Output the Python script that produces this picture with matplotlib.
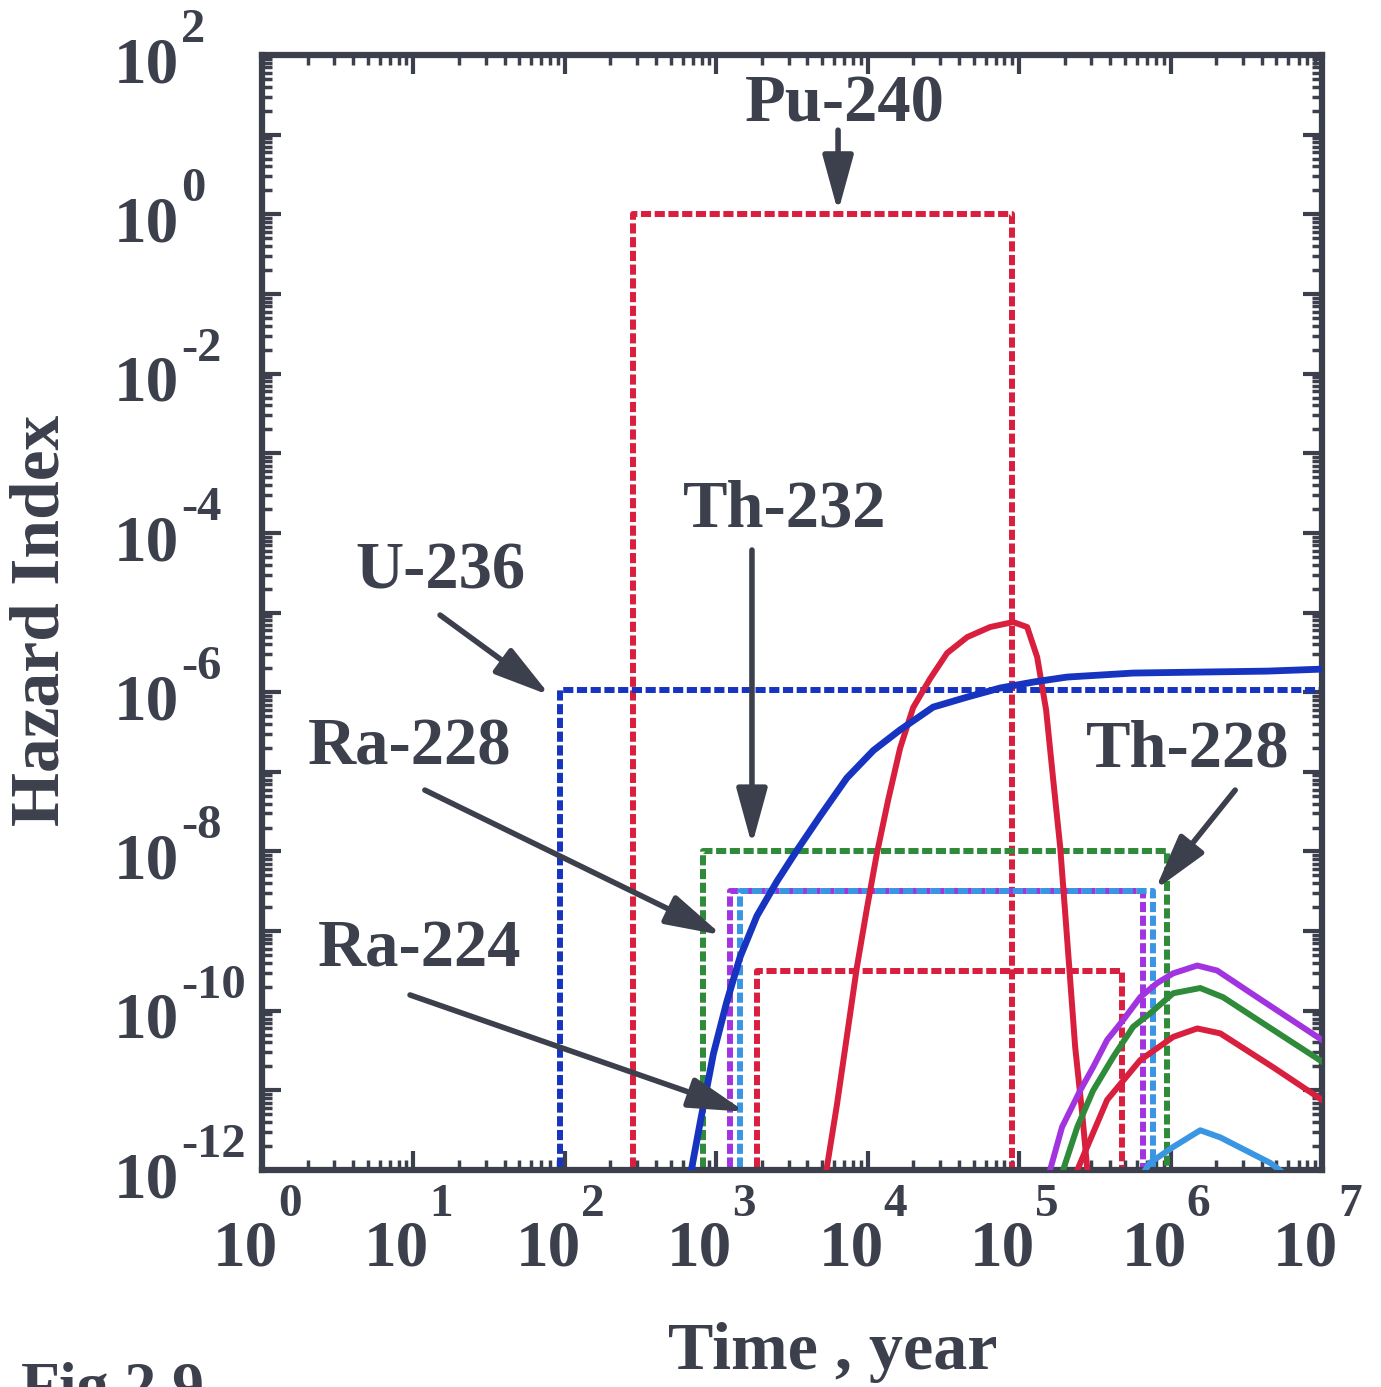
import matplotlib
matplotlib.use("Agg")
import matplotlib.pyplot as plt

# ---------------- data ----------------
# dashed "box" levels: (left time, right time, level)
pu240_box = [2.8e2, 9.0e4, 1.0]
u236_box = [9.3e1, 1.0e7, 1.07e-6]
th232_box = [8.2e2, 9.5e5, 1.0e-8]
ra228_box = [1.23e3, 6.6e5, 3.2e-9]
th228_box = [1.44e3, 7.6e5, 3.2e-9]
ra224_box = [1.86e3, 4.8e5, 3.2e-10]

# solid curves
u236_t = [6.89e2, 7.82e2, 9.57e2, 1.172e3, 1.435e3, 1.854e3, 2.512e3, 3.404e3, 4.853e3, 7.278e3,
          1.091e4, 1.637e4, 2.704e4, 4.539e4, 7.499e4, 1.236e5, 2.075e5, 5.662e5, 1.567e6, 4.345e6, 1.0e7]
u236_h = [1.07e-12, 3.91e-12, 2.88e-11, 1.29e-10, 4.72e-10, 1.55e-9, 4.2e-9, 1.03e-8, 2.79e-8, 8.37e-8,
          1.86e-7, 3.37e-7, 6.5e-7, 8.69e-7, 1.13e-6, 1.34e-6, 1.55e-6, 1.74e-6, 1.79e-6, 1.84e-6, 1.95e-6]

pu240_t = [5.37e3, 6.25e3, 7.28e3, 8.47e3, 9.86e3, 1.148e4, 1.364e4, 1.637e4, 1.995e4, 2.583e4, 3.343e4,
           4.539e4, 6.43e4, 9.12e4, 1.129e5, 1.315e5, 1.507e5, 1.679e5, 1.866e5, 2.014e5, 2.173e5,
           2.344e5, 2.606e5, 2.812e5]
pu240_h = [1.07e-12, 6.46e-12, 4.73e-11, 3.48e-10, 1.89e-9, 9.33e-9, 4.42e-8, 1.99e-7, 6.4e-7, 1.48e-6, 3.1e-6,
           4.92e-6, 6.58e-6, 7.6e-6, 6.58e-6, 2.76e-6, 5.96e-7, 7.88e-8, 1.14e-8, 1.68e-9, 2.43e-10,
           3.5e-11, 5.19e-12, 1.06e-12]

ra228_t = [1.6e5, 1.92e5, 2.53e5, 3.08e5, 3.81e5, 4.86e5, 6.3e5, 8.15e5, 1.04e6, 1.5e6, 2.03e6, 3.73e6, 1.0e7]
ra228_h = [1.0e-12, 3.47e-12, 1.0e-11, 1.96e-11, 4.3e-11, 7.64e-11, 1.48e-10, 2.23e-10, 2.95e-10, 3.7e-10,
           3.2e-10, 1.48e-10, 4.3e-11]

th232_t = [1.95e5, 2.42e5, 3.08e5, 4.18e5, 5.66e5, 7.33e5, 1.04e6, 1.57e6, 2.22e6, 4.76e6, 1.0e7]
th232_h = [1.0e-12, 3.47e-12, 1.0e-11, 2.63e-11, 6.3e-11, 9.3e-11, 1.66e-10, 1.93e-10, 1.48e-10, 5.75e-11, 2.3e-11]

ra224_t = [2.42e5, 3.81e5, 6.3e5, 1.04e6, 1.5e6, 2.13e6, 4.76e6, 1.0e7]
ra224_h = [1.0e-12, 7.6e-12, 2.4e-11, 4.7e-11, 6.0e-11, 5.2e-11, 1.95e-11, 7.6e-12]

th228_t = [6.3e5, 7.3e5, 1.04e6, 1.57e6, 2.13e6, 4.55e6, 5.25e6]
th228_h = [8e-13, 1.23e-12, 1.95e-12, 3.16e-12, 2.57e-12, 1.23e-12, 1.0e-12]

x_tick_exps = [0, 1, 2, 3, 4, 5, 6, 7]
y_tick_exps = [2, 0, -2, -4, -6, -8, -10, -12]

labels = ["Pu-240", "Th-232", "U-236", "Ra-228", "Ra-224", "Th-228"]
label_pos = [(7.1e3, 23.5), (2.85e3, 1.94e-4), (1.5e1, 3.2e-5), (9.5e0, 2.0e-7), (1.1e1, 5.75e-10), (1.3e6, 1.86e-7)]
arrow_tail = [(6.37e3, 11.4), (1.72e3, 6.1e-5), (1.5e1, 9.3e-6), (1.19e1, 5.9e-8), (9.5e0, 1.58e-10), (2.67e6, 5.9e-8)]
arrow_tip = [(6.37e3, 1.07), (1.72e3, 1.2e-8), (7.98e1, 9.1e-7), (1.09e3, 8.9e-10), (1.55e3, 5.4e-12), (7.9e5, 3.3e-9)]

# ---------------- style ----------------
RED = "#d91f3e"
BLUE = "#1634c0"
GREEN = "#2f8a3a"
PURPLE = "#a234e0"
CYAN = "#3a96e2"
INK = "#3c404c"
SERIF = ["Liberation Serif", "DejaVu Serif"]

plt.rcParams["font.family"] = SERIF
plt.rcParams["font.weight"] = "bold"

fig = plt.figure(figsize=(13.81, 13.87), dpi=100)
ax = fig.add_axes([0.1897, 0.1564, 0.7676, 0.8039])
ax.set_xscale("log")
ax.set_yscale("log")
ax.set_xlim(1e0, 1e7)
ax.set_ylim(1e-12, 1e2)

YMIN = 1e-13
dash = (0, (1.7, 0.6))
LW = 4.3


def box(b, color, z):
    l, r, lev = b
    ax.plot([l, l, r, r], [YMIN, lev, lev, YMIN], color=color, lw=LW,
            linestyle=dash, zorder=z, solid_joinstyle="miter")


box(pu240_box, RED, 2)
box(u236_box, BLUE, 2)
box(th232_box, GREEN, 2)
box(ra228_box, PURPLE, 2)
box(th228_box, CYAN, 2.1)
box(ra224_box, RED, 2)

ax.plot(pu240_t, pu240_h, color=RED, lw=LW, zorder=3, solid_joinstyle="round")
ax.plot(u236_t, u236_h, color=BLUE, lw=LW + 0.6, zorder=4, solid_joinstyle="round")
ax.plot(ra228_t, ra228_h, color=PURPLE, lw=LW, zorder=3, solid_joinstyle="round")
ax.plot(th232_t, th232_h, color=GREEN, lw=LW, zorder=3, solid_joinstyle="round")
ax.plot(ra224_t, ra224_h, color=RED, lw=LW, zorder=3, solid_joinstyle="round")
ax.plot(th228_t, th228_h, color=CYAN, lw=LW, zorder=3, solid_joinstyle="round")

# labels and arrows
for txt, pos, tail, tip in zip(labels, label_pos, arrow_tail, arrow_tip):
    ax.text(pos[0], pos[1], txt, ha="center", va="center", fontsize=48,
            fontweight="bold", color=INK, zorder=6)
    ax.annotate("", xy=tip, xytext=tail,
                arrowprops=dict(arrowstyle="-|>,head_length=0.95,head_width=0.26",
                                color=INK, lw=4, mutation_scale=36,
                                shrinkA=0, shrinkB=0), zorder=6)

# spines and ticks
for s in ax.spines.values():
    s.set_linewidth(4.5)
    s.set_color(INK)
ax.xaxis.set_major_locator(matplotlib.ticker.LogLocator(base=10, numticks=20))
ax.yaxis.set_major_locator(matplotlib.ticker.LogLocator(base=10, numticks=30))
ax.xaxis.set_minor_locator(matplotlib.ticker.LogLocator(base=10, subs=range(2, 10), numticks=20))
ax.yaxis.set_minor_locator(matplotlib.ticker.LogLocator(base=10, subs=range(2, 10), numticks=30))
ax.tick_params(which="both", direction="in", top=True, right=True, color=INK,
               labelbottom=False, labelleft=False)
ax.tick_params(which="major", length=14, width=3)
ax.tick_params(which="minor", length=7, width=2.5)

# tick labels (10 with raised exponent)
for e in x_tick_exps:
    ax.annotate("10", xy=(10.0 ** e, 0), xycoords=ax.get_xaxis_transform(),
                xytext=(-12, -57), textcoords="offset points", ha="center", va="center",
                fontsize=47, fontweight="bold", color=INK, annotation_clip=False)
    ax.annotate(str(e), xy=(10.0 ** e, 0), xycoords=ax.get_xaxis_transform(),
                xytext=(20, -25), textcoords="offset points", ha="center", va="center",
                fontsize=34, fontweight="bold", color=INK, annotation_clip=False)
for e in y_tick_exps:
    ax.annotate("10", xy=(0, 10.0 ** e), xycoords=ax.get_yaxis_transform(),
                xytext=(-60, -8), textcoords="offset points", ha="right", va="center",
                fontsize=47, fontweight="bold", color=INK, annotation_clip=False)
    ax.annotate(str(e), xy=(0, 10.0 ** e), xycoords=ax.get_yaxis_transform(),
                xytext=(-58, 18), textcoords="offset points", ha="left", va="center",
                fontsize=35, fontweight="bold", color=INK, annotation_clip=False)

ax.set_xlabel("Time , year", fontsize=49, fontweight="bold", color=INK)
ax.xaxis.set_label_coords(0.538, -0.136)
ax.set_ylabel("Hazard Index", fontsize=50, fontweight="bold", color=INK)
ax.yaxis.set_label_coords(-0.178, 0.493)

fig.text(0.015, -0.014, "Fig.2.9", fontsize=46, fontweight="bold", color=INK,
         ha="left", va="baseline")

fig.savefig("out.png", dpi=100)
